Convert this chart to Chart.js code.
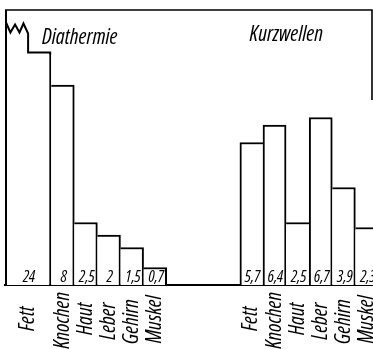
<!DOCTYPE html>
<html>
<head>
<meta charset="utf-8">
<script src="https://cdn.jsdelivr.net/npm/chart.js@4/dist/chart.umd.min.js"></script>
<style>
  html, body { margin: 0; padding: 0; background: #fff; }
  canvas { display: block; }
</style>
</head>
<body>
<canvas id="c" width="373" height="349"></canvas>
<script>
// Relative heating of tissues: diathermy vs. short waves
const organs = ['Fett', 'Knochen', 'Haut', 'Leber', 'Gehirn', 'Muskel'];
const diathermie = [24, 8, 2.5, 2, 1.5, 0.7];
const kurzwellen = [5.7, 6.4, 2.5, 6.7, 3.9, 2.3];
const groupTitles = ['Diathermie', 'Kurzwellen'];

const FAMILY = "'Open Sans', 'DejaVu Sans', sans-serif";
const STRETCH = 'normal condensed';
const Y_MAX = 11;          // top of the frame; the fat bar is broken above it
const GROUP_GAP = 3.17;    // empty slots between the two groups

// slot layout along the x axis (1 slot = one normal bar width)
const leftX = [];
let cursor = 0;
organs.forEach((o, i) => {
  const w = i === 0 ? 2 : 1;   // the first bar of the left group is double width
  leftX.push(cursor + w / 2);
  cursor += w;
});
const rightStart = cursor + GROUP_GAP;
const rightX = organs.map((o, i) => rightStart + 0.5 + i);
const tickPos = leftX.concat(rightX);

// rotated names are centred on a common middle line: pad the shorter ones
const TICK_SIZE = 21;
const measureCtx = document.createElement('canvas').getContext('2d');
measureCtx.font = 'italic ' + STRETCH + ' ' + TICK_SIZE + 'px ' + FAMILY;
const longest = Math.max(...organs.map(o => measureCtx.measureText(o).width));
const spaceW = measureCtx.measureText(' ').width;
const paddedNames = organs.map(o => {
  const n = Math.round((longest - measureCtx.measureText(o).width) / 2 / spaceW);
  return o + ' '.repeat(n);
});
const tickNames = paddedNames.concat(paddedNames);

const fmt = v => String(v).replace('.', ',');

// one 2px line per shared edge: the taller neighbour draws it
function edges(vals, i) {
  return {
    top: 2,
    bottom: 0,
    left: (i === 0 || vals[i - 1] < vals[i]) ? 2 : 0,
    right: (i === vals.length - 1 || vals[i + 1] <= vals[i]) ? 2 : 0
  };
}

const barStyle = {
  backgroundColor: '#fff',
  borderColor: '#000',
  categoryPercentage: 1,
  grouped: false,
  borderSkipped: 'bottom'
};

// break symbol on the off-scale fat bar
const breakPlugin = {
  id: 'breakMark',
  afterDatasetsDraw(chart) {
    const ctx = chart.ctx, y = chart.scales.y, area = chart.chartArea;
    const bar = chart.getDatasetMeta(0).data[0];
    const left = bar.x - bar.width / 2, right = bar.x + bar.width / 2, mid = bar.x;
    const step = y.getPixelForValue(9.3);
    const hi = y.getPixelForValue(10.5), lo = y.getPixelForValue(10.1);
    ctx.save();
    ctx.fillStyle = '#fff';
    ctx.fillRect(left + 2, area.top - 1, right - left, step - area.top + 1);
    ctx.strokeStyle = '#000';
    ctx.lineWidth = 2;
    ctx.lineJoin = 'miter';
    const hw = mid - left;
    const zig = [[0, hi], [0.2, lo], [0.41, hi + 2], [0.61, lo], [0.79, hi + 1], [1, lo + 1]];
    ctx.beginPath();
    zig.forEach(([f, py], i) => {
      const px = left + 1 + f * (hw - 1);
      if (i === 0) ctx.moveTo(px, py); else ctx.lineTo(px, py);
    });
    ctx.lineTo(mid, step);
    ctx.lineTo(right - 1, step);
    ctx.lineTo(right - 1, step + 2);
    ctx.stroke();
    ctx.restore();
  }
};

// frame, group titles and the value written at the foot of each bar
const decorPlugin = {
  id: 'decor',
  afterDatasetsDraw(chart) {
    const ctx = chart.ctx, area = chart.chartArea, x = chart.scales.x, y = chart.scales.y;
    ctx.save();
    ctx.strokeStyle = '#000';
    ctx.lineWidth = 1.6;
    ctx.beginPath();
    ctx.moveTo(area.left + 0.8, area.bottom);
    ctx.lineTo(area.left + 0.8, area.top);
    ctx.lineTo(area.right, area.top);
    ctx.lineTo(area.right, y.getPixelForValue(7.4));
    ctx.stroke();

    ctx.fillStyle = '#000';
    ctx.font = 'italic ' + STRETCH + ' 21.5px ' + FAMILY;
    ctx.textBaseline = 'alphabetic';
    ctx.textAlign = 'left';
    ctx.fillText(groupTitles[0], x.getPixelForValue(1.6), area.top + 34);
    ctx.fillText(groupTitles[1], x.getPixelForValue(rightStart + 0.42), area.top + 31);

    ctx.font = 'italic ' + STRETCH + ' 16px ' + FAMILY;
    ctx.textAlign = 'center';
    chart.data.datasets.forEach((ds, di) => {
      chart.getDatasetMeta(di).data.forEach((el, i) => {
        ctx.fillText(fmt(ds.data[i].y), el.x + 1, el.base - 3);
      });
    });
    ctx.restore();
  }
};

new Chart(document.getElementById('c'), {
  type: 'bar',
  data: {
    datasets: [
      Object.assign({
        label: 'Diathermie (Fett)',
        data: [{ x: leftX[0], y: diathermie[0] }],
        barPercentage: 2,
        borderWidth: { top: 2, bottom: 0, left: 2, right: 2 }
      }, barStyle),
      Object.assign({
        label: 'Diathermie',
        data: leftX.slice(1).map((px, i) => ({ x: px, y: diathermie[i + 1] })),
        barPercentage: 1,
        borderWidth: ctx => edges(diathermie, ctx.dataIndex + 1)
      }, barStyle),
      Object.assign({
        label: 'Kurzwellen',
        data: rightX.map((px, i) => ({ x: px, y: kurzwellen[i] })),
        barPercentage: 1,
        clip: false,
        borderWidth: ctx => edges(kurzwellen, ctx.dataIndex)
      }, barStyle)
    ]
  },
  options: {
    responsive: false,
    animation: false,
    layout: { padding: { left: 5, top: 10, right: 1, bottom: 0 } },
    plugins: { legend: { display: false }, tooltip: { enabled: false } },
    scales: {
      x: {
        type: 'linear',
        offset: false,
        min: 0,
        max: rightStart + 5.72,
        grid: { display: false, drawTicks: false },
        border: { display: true, color: '#000', width: 2 },
        afterBuildTicks: s => { s.ticks = tickPos.map(v => ({ value: v })); },
        afterFit: s => { s.height = 64; s.paddingLeft = 0; s.paddingRight = 0; },
        ticks: {
          autoSkip: false,
          minRotation: 90,
          maxRotation: 90,
          padding: 7,
          color: '#000',
          font: { family: FAMILY, size: TICK_SIZE, style: 'italic', weight: STRETCH },
          callback: (v, i) => tickNames[i]
        }
      },
      y: {
        display: false,
        min: 0,
        max: Y_MAX
      }
    }
  },
  plugins: [breakPlugin, decorPlugin]
});
</script>
</body>
</html>
